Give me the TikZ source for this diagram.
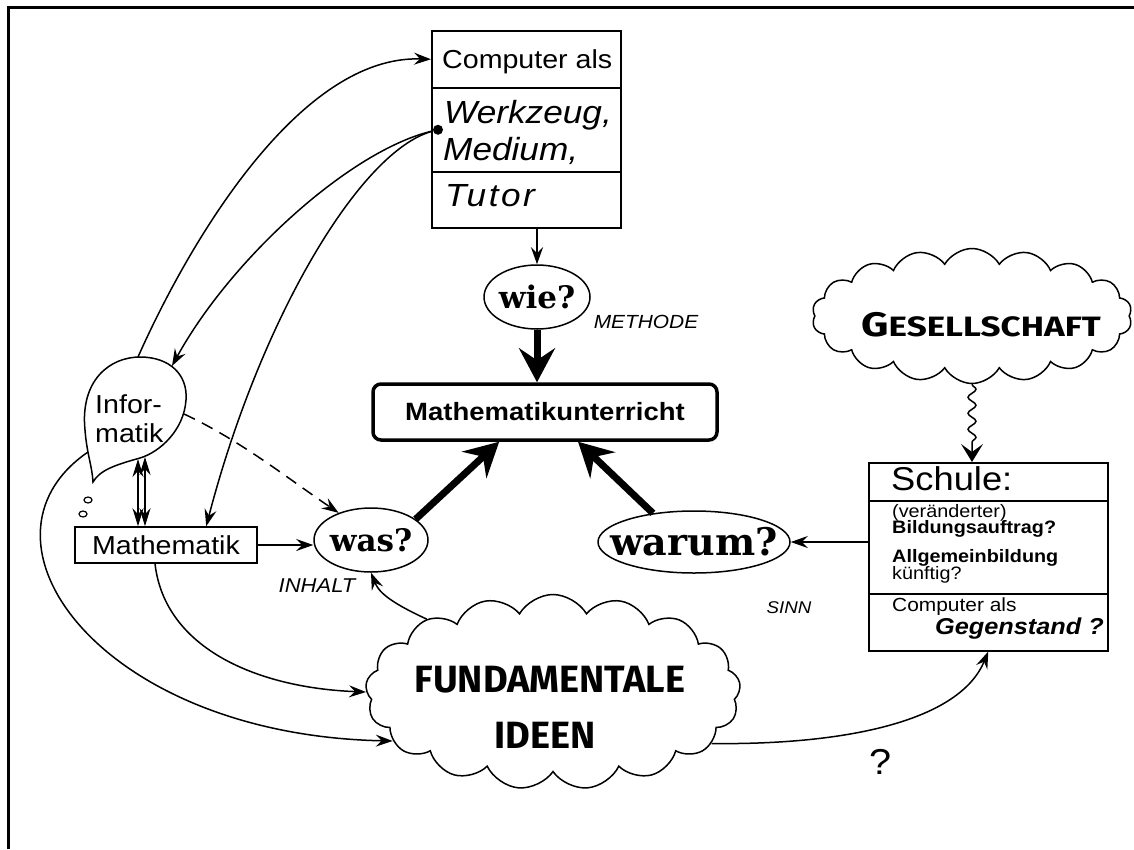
\documentclass[tikz,border=0pt]{standalone}
\usepackage{fontspec}
\setmainfont{Liberation Sans}[FakeStretch=1.1]
\newfontfamily\qfont{DejaVu Serif}
\newfontfamily\deco{Fira Sans}
\newfontfamily\decowide{Fira Sans}[FakeStretch=1.25]
\usetikzlibrary{shapes.geometric,shapes.symbols,arrows.meta,decorations.pathmorphing,calc}
\newcommand\myfs[1]{\fontsize{#1}{#1}\selectfont}
\tikzset{
  arrowthin/.style={line width=1.5pt, -{Stealth[length=17pt,width=12pt,inset=6pt]}},
  arrowboth/.style={line width=1.5pt, {Stealth[length=18pt,width=11pt,inset=6pt]}-{Stealth[length=18pt,width=11pt,inset=6pt]}},
  arrowthick/.style={line width=7pt, -{Stealth[length=34pt,width=36pt,inset=12pt]}},
  boxpart/.style={draw, line width=1.5pt, inner sep=0pt, anchor=north west},
  oval/.style={ellipse, draw, line width=1.5pt, inner sep=0pt},
  qtext/.style={font=\qfont\bfseries\myfs{36}},
  bubble/.style={cloud, draw, line width=1.5pt, cloud puffs=18, cloud puff arc=120, cloud ignores aspect, inner sep=0pt},
  lab/.style={font=\itshape\myfs{19}},
  txt/.style={anchor=base west, inner sep=0pt},
}
\begin{document}
\begin{tikzpicture}[x=1pt,y=-1pt]
\useasboundingbox (0,0) rectangle (1134,849);
\draw[line width=3pt] (8,849) -- (8,7) -- (1134,7);

% Computer box
\node[boxpart, minimum width=189pt, minimum height=57pt] (c1) at (431,30) {};
\node[boxpart, minimum width=189pt, minimum height=84pt] (c2) at (431,87) {};
\node[boxpart, minimum width=189pt, minimum height=56pt] (c3) at (431,171) {};
\node[txt, font=\myfs{26}] (ct1) at (442,68) {Computer als};
\node[txt, font=\itshape\myfs{32}] (ct2) at (444,123) {Werkzeug,};
\node[txt, font=\itshape\myfs{32}] (ct3) at (443,160) {Medium,};
\node[txt, font=\itshape\myfs{32}\addfontfeature{LetterSpace=8}] (ct4) at (445,206) {Tutor};
\node[circle, fill, inner sep=0pt, minimum size=10pt] (dot) at ([xshift=7pt]c2.west) {};

% question ovals
\node[oval, minimum width=106pt, minimum height=64pt] (wie) at (537,297) {};
\node[qtext, font=\qfont\bfseries\myfs{31}] (wiet) at (537,297) {wie?};
\node[lab] (meth) at (646,322) {METHODE};
\node[oval, minimum width=114pt, minimum height=64pt] (was) at (371,540) {};
\node[qtext, font=\qfont\bfseries\myfs{31}] (wast) at (371,540) {was?};
\node[lab, font=\itshape\myfs{20}] (inh) at (317,586) {INHALT};
\node[oval, minimum width=192pt, minimum height=62pt] (warum) at (694,542) {};
\node[qtext, font=\qfont\bfseries\myfs{38}] (warumt) at (694,542) {warum?};
\node[lab, font=\itshape\myfs{17}] (sinn) at (789,608) {SINN};

% Mathematikunterricht
\node[draw, line width=3.5pt, rounded corners=8pt, minimum width=344pt, minimum height=56pt] (mu) at (545,412) {\bfseries\myfs{25}Mathematikunterricht};

% Mathematik
\node[draw, line width=1.5pt, minimum width=182pt, minimum height=36pt, inner sep=0pt] (math) at (166,545) {\myfs{26}Mathematik};

% Informatik bubble
\draw[line width=1.5pt] (93,482) .. controls (92,465) and (87,455) .. (85,430)
  .. controls (80,380) and (110,357) .. (140,357)
  .. controls (170,357) and (188,375) .. (186,400)
  .. controls (184,430) and (160,452) .. (140,458)
  .. controls (115,465) and (100,470) .. (93,482) -- cycle;
\draw[line width=1.2pt] (88,500) ellipse [x radius=4pt, y radius=3pt];
\draw[line width=1.2pt] (83,514) ellipse [x radius=4pt, y radius=3pt];
\node[txt, font=\myfs{26}] (inf1) at (95,413) {Infor-};
\node[txt, font=\myfs{26}] (inf2) at (95,442) {matik};
\coordinate (inftop) at (138,357);
\coordinate (inftr) at (172,366);
\coordinate (infright) at (184,414);
\coordinate (infleft) at (88,452);
\coordinate (infb1) at (138,459);
\coordinate (infb2) at (145,457);

% Schule box
\node[boxpart, minimum width=239pt, minimum height=38pt] (sch1) at (868,462) {};
\node[boxpart, minimum width=239pt, minimum height=93pt] (sch2) at (868,500) {};
\node[boxpart, minimum width=239pt, minimum height=57pt] (sch3) at (868,593) {};
\node[txt, font=\myfs{33}] (st1) at (891,490) {Schule:};
\node[txt, font=\myfs{18}] (st2) at (892,517) {(veränderter)};
\node[txt, font=\bfseries\myfs{18}] (st3) at (892,533) {Bildungsauftrag?};
\node[txt, font=\bfseries\myfs{18}] (st4) at (892,562) {Allgemeinbildung};
\node[txt, font=\myfs{18}] (st5) at (892,579) {künftig?};
\node[txt, font=\myfs{19}] (st6) at (892,611) {Computer als};
\node[anchor=base east, inner sep=0pt, font=\bfseries\itshape\myfs{23}] (st7) at (1104,634) {Gegenstand ?};

% clouds
\node[bubble, minimum width=320pt, minimum height=135pt] (gesell) at (972,316) {};
\node[font=\decowide\bfseries, inner sep=0pt] (gest) at (981,325) {{\myfs{34}G}{\myfs{28}ESELLSCHAFT}};
\node[bubble, cloud puffs=17, minimum width=375pt, minimum height=195pt] (fund) at (553,692) {};
\node[font=\deco\bfseries\myfs{38}, inner sep=0pt] (fund1) at (550,680) {FUNDAMENTALE};
\node[font=\deco\bfseries\myfs{38}, inner sep=0pt] (fund2) at (545,735) {IDEEN};

\node[font=\myfs{36}, inner sep=0pt] (qm) at (880,762) {?};

% connectors
\draw[arrowthin] (inftop) .. controls (190,240) and (300,55) .. (c1.west);
\draw[arrowthin] (dot) .. controls (350,150) and (230,260) .. (inftr);
\draw[arrowthin] (dot) .. controls (360,150) and (260,320) .. (math.25);
\draw[arrowthin, dash pattern=on 12pt off 8pt] (infright) .. controls (240,440) and (290,480) .. (was.140);
\draw[arrowthin] (math.east) -- (math.east -| was.west);
\draw[arrowboth] (infb1) -- (infb1 |- math.north);
\draw[arrowboth] (infb2) -- (infb2 |- math.north);
\draw[arrowthin] (fund.150) .. controls (385,600) and (378,590) .. (was.south);
\draw[arrowthin] ([xshift=-11pt]math.south) .. controls (165,650) and (260,688) .. (fund.180);
\draw[arrowthin] (infleft) .. controls (-40,540) and (100,735) .. (fund.197);
\draw[arrowthin] (fund.-18) .. controls (850,745) and (960,720) .. (sch3.south);
\draw[arrowthin] (wie.north |- c3.south) -- (wie.north);
\draw[arrowthick] (wie.south) -- (wie.south |- mu.north);
\draw[arrowthick] (was.25) -- (mu.213);
\draw[arrowthick] (warum.145) -- (mu.-42);
\draw[arrowthin] (sch2.west |- warum.east) -- (warum.east);
\draw[line width=1.5pt, decorate, decoration={snake, amplitude=4pt, segment length=16pt, post length=16pt}, -{Stealth[length=18pt,width=22pt,inset=8pt]}] (gesell.south) -- (gesell.south |- sch1.north);
\end{tikzpicture}
\end{document}
